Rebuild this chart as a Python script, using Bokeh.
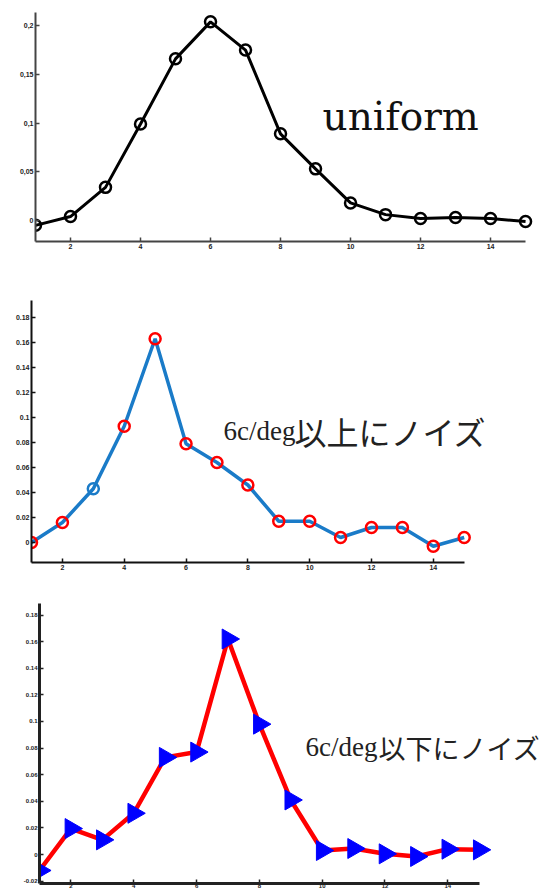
from bokeh.plotting import figure
from bokeh.layouts import column, row
from bokeh.models import Label, FixedTicker, Range1d
from bokeh.embed import file_html
from bokeh.resources import INLINE
import math

# ---- data ----
x_vals = list(range(1, 16))
uniform = [-0.005, 0.004, 0.034, 0.099, 0.166, 0.204, 0.175, 0.089, 0.053,
           0.018, 0.006, 0.002, 0.003, 0.002, -0.001]
noise_above = [0.0, 0.016, 0.043, 0.093, 0.163, 0.079, 0.064, 0.046, 0.017,
               0.017, 0.004, 0.012, 0.012, -0.003, 0.004]
noise_below = [-0.012, 0.0195, 0.011, 0.031, 0.073, 0.077, 0.162, 0.098, 0.041,
               0.003, 0.0045, 0.0005, -0.0015, 0.004, 0.0035]

x_ticks = [2, 4, 6, 8, 10, 12, 14]
y1_ticks = [0, 0.05, 0.1, 0.15, 0.2]
y1_labels = ["0", "0,05", "0,1", "0,15", "0,2"]
y2_ticks = [0, 0.02, 0.04, 0.06, 0.08, 0.1, 0.12, 0.14, 0.16, 0.18]
y2_labels = ["0", "0.02", "0.04", "0.06", "0.08", "0.1", "0.12", "0.14", "0.16", "0.18"]
y3_ticks = [-0.02, 0, 0.02, 0.04, 0.06, 0.08, 0.1, 0.12, 0.14, 0.16, 0.18]
y3_labels = ["-0.02", "0", "0.02", "0.04", "0.06", "0.08", "0.1", "0.12", "0.14", "0.16", "0.18"]

title1 = "uniform"
title2_lat, title2_jp = "6c/deg", "以上にノイズ"
title3_lat, title3_jp = "6c/deg", "以下にノイズ"

W = 545


def make_fig(h, xr, yr, bl, bt, bb, yticks, ylabels, axis_w, axis_col, lab_size="7px"):
    p = figure(width=W, height=h, x_range=Range1d(*xr), y_range=Range1d(*yr),
               output_backend="svg", toolbar_location=None,
               min_border_left=bl, min_border_right=0, min_border_top=bt,
               min_border_bottom=bb)
    p.outline_line_color = None
    p.xgrid.grid_line_color = None
    p.ygrid.grid_line_color = None
    p.xaxis.bounds = (1, 15)
    for ax in (p.xaxis[0], p.yaxis[0]):
        ax.axis_line_width = axis_w
        ax.axis_line_color = axis_col
        ax.major_tick_line_color = axis_col
        ax.major_tick_line_width = 1.5
        ax.major_tick_in = 4
        ax.major_tick_out = 0
        ax.minor_tick_line_color = None
        ax.major_label_text_font = "Liberation Sans"
        ax.major_label_text_font_style = "bold"
        ax.major_label_text_font_size = lab_size
        ax.major_label_text_color = "#222222"
        ax.major_label_standoff = 2
    p.xaxis.ticker = FixedTicker(ticks=x_ticks)
    p.yaxis.ticker = FixedTicker(ticks=yticks)
    p.yaxis.major_label_overrides = {t: l for t, l in zip(yticks, ylabels)}
    return p


def add_title(p, x, y, lat, jp, lat_size, jp_size, jp_offset):
    p.add_layout(Label(x=x, y=y, text=lat, text_font="Liberation Serif",
                       text_font_size=lat_size, text_color="#222222",
                       text_baseline="alphabetic"))
    p.add_layout(Label(x=x, y=y, x_offset=jp_offset, text=jp,
                       text_font="Noto Sans CJK JP",
                       text_font_size=jp_size, text_color="#222222",
                       text_baseline="alphabetic"))


# Panel 1
p1 = make_fig(290, (1, 15.57), (-0.0216, 0.2136), 35, 12, 49, y1_ticks, y1_labels,
              2, "#444444", "7px")
p1.line(x_vals, uniform, line_color="black", line_width=3)
p1.scatter(x_vals, uniform, marker="circle", size=11, line_color="black",
           line_width=2.5, fill_alpha=0.0)
p1.add_layout(Label(x=9.2, y=0.107, text=title1, text_font="DejaVu Serif",
                    text_font_size="39px", text_color="#111111",
                    text_baseline="alphabetic"))

# Panel 2
p2 = make_fig(305, (1, 17.63), (-0.016, 0.1936), 31, 10, 33, y2_ticks, y2_labels,
              2, "#111111")
p2.line(x_vals, noise_above, line_color="#1a7bc8", line_width=3.5)
marker2_colors = ["red", "red", "#1a7bc8"] + ["red"] * 12
p2.scatter(x_vals, noise_above, marker="circle", size=11, line_color=marker2_colors,
           line_width=2.5, fill_alpha=0.0)
add_title(p2, 7.21, 0.0896, title2_lat, title2_jp, "27px", "32px", 71)

# Panel 3
p3 = make_fig(295, (1, 17.11), (-0.0218, 0.1887), 39, 8, 7, y3_ticks, y3_labels,
              3, "#222222", "6px")
p3.xaxis.major_label_standoff = 0
p3.line(x_vals, noise_below, line_color="red", line_width=4.5)
p3.scatter(x_vals, noise_below, marker="triangle", size=20, angle=-math.pi / 2,
           fill_color="blue", line_color="blue", line_width=1)
add_title(p3, 9.47, 0.0805, title3_lat, title3_jp, "27px", "27px", 73)

layout = column(row(p1), row(p2), row(p3), spacing=0)
open("out.html", "w").write(file_html(layout, INLINE))
